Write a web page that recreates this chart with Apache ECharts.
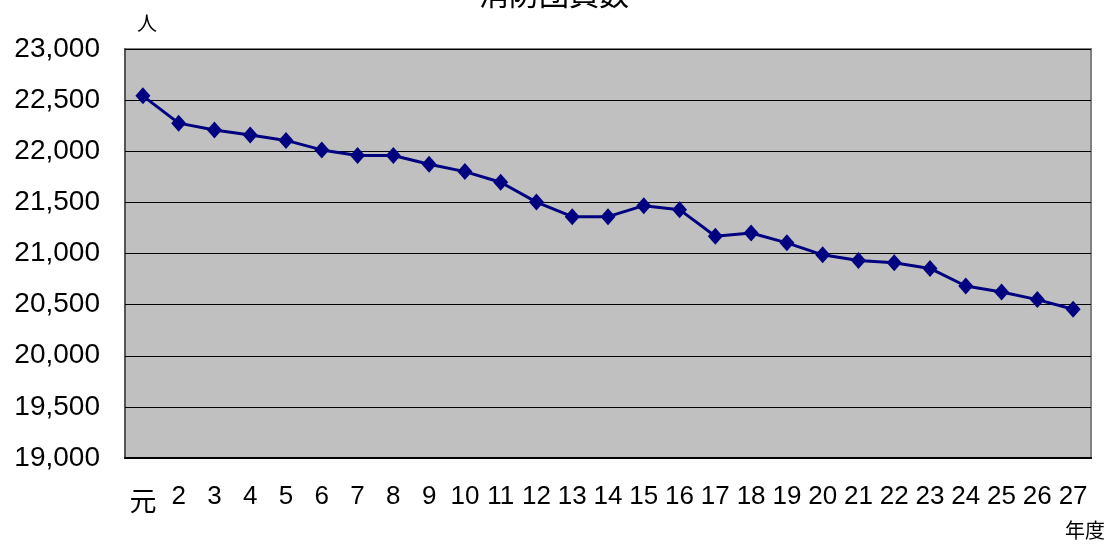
<!DOCTYPE html>
<html>
<head>
<meta charset="utf-8">
<script src="https://cdn.jsdelivr.net/npm/echarts@6/dist/echarts.min.js"></script>
<style>
  html, body { margin: 0; padding: 0; background: #fff; }
  #chart { width: 1108px; height: 545px; }
</style>
</head>
<body>
<div id="chart"></div>
<script>
// 年度（平成）
const years = ['元', '2', '3', '4', '5', '6', '7', '8', '9', '10', '11', '12', '13', '14',
  '15', '16', '17', '18', '19', '20', '21', '22', '23', '24', '25', '26', '27'];
// 消防団員数（人）
const members = [22542, 22275, 22207, 22158, 22106, 22013, 21958, 21958, 21873, 21801, 21697,
  21503, 21360, 21360, 21468, 21429, 21169, 21201, 21104, 20987, 20932, 20909, 20854,
  20682, 20623, 20549, 20455];
const yMin = 19000, yMax = 23000, yStep = 500;

const chart = echarts.init(document.getElementById('chart'));
chart.setOption({
  animation: false,
  title: {
    text: '消防団員数',
    left: 'center',
    top: -26,
    textStyle: { fontFamily: 'Noto Sans CJK JP', fontSize: 30, fontWeight: 'normal', color: '#000' }
  },
  grid: {
    left: 125, right: 17, top: 49, bottom: 87,
    show: true, backgroundColor: '#C0C0C0', borderColor: '#808080', borderWidth: 2
  },
  xAxis: {
    type: 'category',
    data: years,
    boundaryGap: true,
    name: '年度',
    nameLocation: 'end',
    nameGap: 14,
    nameTextStyle: {
      fontFamily: 'Noto Sans CJK JP', fontSize: 20, color: '#000',
      align: 'right', verticalAlign: 'top', padding: [62, 0, 0, 0]
    },
    axisLine: { lineStyle: { color: '#000', width: 2 } },
    axisTick: { inside: true, length: 6, interval: 0, lineStyle: { color: '#000' } },
    axisLabel: {
      interval: 0, hideOverlap: false,
      margin: 26, fontSize: 26, color: '#000', fontFamily: 'Liberation Sans Narrow, Liberation Sans',
      rich: { g: { fontFamily: 'Noto Sans CJK JP', fontSize: 27, padding: [3, 0, 0, 0] } },
      formatter: v => v === '元' ? '{g|元}' : v
    },
    splitLine: { show: false }
  },
  yAxis: {
    type: 'value',
    min: yMin, max: yMax, interval: yStep,
    name: '人',
    nameLocation: 'end',
    nameGap: 16,
    nameTextStyle: {
      fontFamily: 'Noto Sans CJK JP', fontSize: 20, color: '#000',
      align: 'left', padding: [0, 0, 0, 12]
    },
    axisLine: { show: true, lineStyle: { color: '#555', width: 2 } },
    axisTick: { show: true, inside: true, length: 6, lineStyle: { color: '#000' } },
    axisLabel: {
      margin: 25, fontSize: 28, color: '#000', fontFamily: 'Liberation Sans',
      formatter: v => v.toLocaleString('en-US')
    },
    splitLine: { lineStyle: { color: '#000', width: 1 } }
  },
  series: [{
    type: 'line',
    data: members,
    symbol: 'diamond',
    symbolSize: [15, 17],
    itemStyle: { color: '#000080' },
    lineStyle: { color: '#000080', width: 3 }
  }]
});
</script>
</body>
</html>
